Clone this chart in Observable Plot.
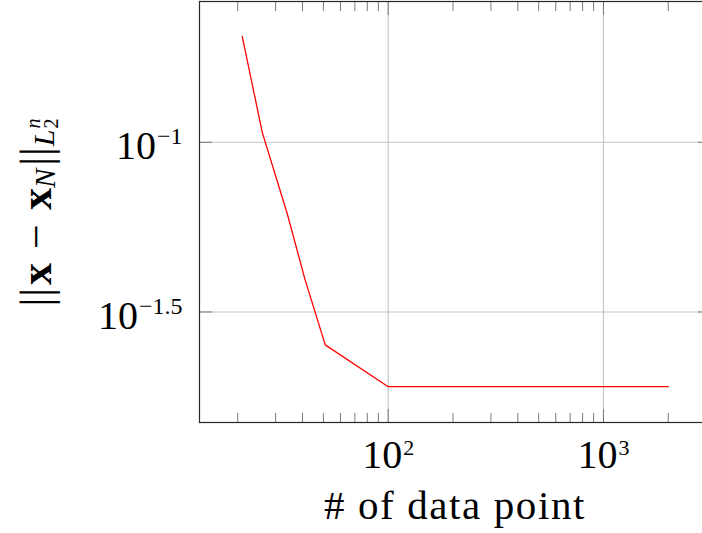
<!DOCTYPE html>
<html><head><meta charset="utf-8">
<script src="https://cdn.jsdelivr.net/npm/d3@7"></script>
<script src="https://cdn.jsdelivr.net/npm/@observablehq/plot@0.6"></script>
<style>
html,body{margin:0;padding:0;overflow:hidden;background:#fff;}
#chart svg{display:block;max-width:none !important;}
</style></head><body><div id="chart"></div>
<script>
// ---- data ----
const dataPoints = [21, 26, 34, 41, 51, 100, 1000, 2000];
const errorValues = [0.205, 0.107, 0.0615, 0.0396, 0.0253, 0.01905, 0.01905, 0.01905];
const xMajorTicks = [100, 1000];
const xTickLabels = ["10^2", "10^3"];
const xMinorTicks = [20, 30, 40, 50, 60, 70, 80, 90, 200, 300, 400, 500, 600, 700, 800, 900, 2000, 3000];
const yMajorTicks = [0.1, 0.0316227766];
const yTickLabels = ["10^\u22121", "10^\u22121.5"];
const xAxisLabel = "# of data point";

const FONT = "'Liberation Serif', 'Times New Roman', serif";
const table = dataPoints.map((x, i) => ({x, y: errorValues[i]}));
const tickColor = "#7a7a7a";
const gridColor = "#c4c4c4";

const chart = Plot.plot({
  width: 711,
  height: 533,
  marginLeft: 199,
  marginRight: 1,
  marginTop: 1,
  marginBottom: 111,
  style: {fontFamily: FONT, background: "#fff", overflow: "visible", maxWidth: "none"},
  x: {type: "log", domain: [13.29, 3141]},
  y: {type: "log", domain: [0.01494, 0.26]},
  marks: [
    Plot.ruleX(xMajorTicks, {x: d => d, stroke: gridColor, strokeWidth: 1.1}),
    Plot.ruleY(yMajorTicks, {y: d => d, stroke: gridColor, strokeWidth: 1.1}),
    Plot.axisX({anchor: "bottom", ticks: xMinorTicks, tickSize: -9, tickFormat: () => "", label: null, color: tickColor}),
    Plot.axisX({anchor: "top", ticks: xMinorTicks, tickSize: -9, tickFormat: () => "", label: null, color: tickColor}),
    Plot.axisX({anchor: "bottom", ticks: xMajorTicks, tickSize: -13, tickFormat: () => "", label: null, color: tickColor}),
    Plot.axisX({anchor: "top", ticks: xMajorTicks, tickSize: -13, tickFormat: () => "", label: null, color: tickColor}),
    Plot.axisY({anchor: "left", ticks: yMajorTicks, tickSize: -13, tickFormat: () => "", label: null, color: tickColor}),
    Plot.axisY({anchor: "right", ticks: yMajorTicks, tickSize: -13, tickFormat: () => "", label: null, color: tickColor}),
    Plot.line(table, {x: "x", y: "y", stroke: "#ff0000", strokeWidth: 1.3}),
    Plot.frame({stroke: "#262626", strokeWidth: 1.2}),
    Plot.text(xTickLabels, {x: (d, i) => xMajorTicks[i], frameAnchor: "bottom", lineAnchor: "middle", dy: 33, text: d => d, fontSize: 40, fill: "#000", className: "supx"}),
    Plot.text(yTickLabels, {y: (d, i) => yMajorTicks[i], frameAnchor: "left", lineAnchor: "middle", dx: -17, dy: 4, textAnchor: "end", text: d => d, fontSize: 40, fill: "#000", className: "supy"}),
    Plot.text([xAxisLabel], {frameAnchor: "bottom", lineAnchor: "middle", dy: 83, text: d => d, fontSize: 41, fill: "#000", className: "xlabel"})
  ]
});
chart.style.maxWidth = "none";
document.getElementById("chart").appendChild(chart);

const svg = d3.select(chart);
// superscripts for tick labels
function superscript(sel, raise, size) {
  sel.selectAll("text").each(function() {
    const t = d3.select(this);
    const s = t.text();
    const [base, exp] = s.split("^");
    t.text(null);
    t.append("tspan").text(base);
    t.append("tspan").attr("dy", -raise).attr("dx", 1).attr("font-size", size).text(exp);
  });
}
superscript(svg.select("g.supx"), 13.5, 22);
superscript(svg.select("g.supy"), 15, 24);
svg.select("g.xlabel").selectAll("text").attr("letter-spacing", 1.6);

// y axis label  ||x − x_N||_{L_2^n}
const yl = svg.append("text")
  .attr("transform", "translate(51,212.5) rotate(-90)")
  .attr("text-anchor", "middle")
  .attr("font-family", FONT)
  .attr("font-size", 44)
  .attr("fill", "#000");
yl.append("tspan").attr("letter-spacing", 1).text("||");
yl.append("tspan").attr("font-weight", "bold").attr("dx", 2).text("x");
yl.append("tspan").attr("dx", 3).text(" \u2212 ");
yl.append("tspan").attr("font-weight", "bold").attr("dx", 3).text("x");
yl.append("tspan").attr("font-style", "italic").attr("font-size", 29).attr("dy", 4).text("N");
yl.append("tspan").attr("dy", -4).attr("dx", 3).attr("letter-spacing", 1).text("||");
yl.append("tspan").attr("font-style", "italic").attr("font-size", 30).attr("dy", 3).text("L");
yl.append("tspan").attr("font-size", 20).attr("dy", 4).attr("dx", 1).text("2");
yl.append("tspan").attr("font-style", "italic").attr("font-size", 20).attr("dy", -18).attr("dx", -10).text("n");
</script></body></html>
